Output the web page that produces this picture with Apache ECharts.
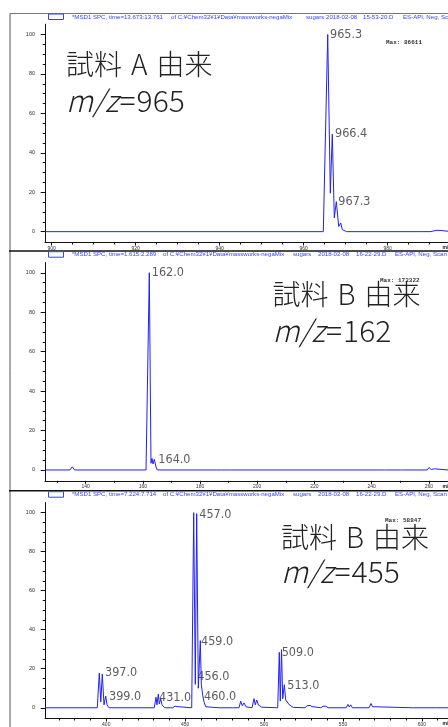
<!DOCTYPE html>
<html><head><meta charset="utf-8">
<script src="https://cdn.jsdelivr.net/npm/echarts@6/dist/echarts.min.js"></script>
<style>html,body{margin:0;padding:0;background:#fff}#c{width:448px;height:727px}</style>
</head><body><div id="c"></div>
<script>
// ---------- data ----------
// Panel 1 (sample A, m/z 965)
const p1Profile = [[898.4,0],[964.66,0],[964.9,1],[965.71,100],[966.33,19.5],[966.8,49.4],[967.28,7],[967.76,15.2],[968.33,2.6],[968.81,4.4],[969.19,1],[969.59,1.5],[970.23,0],[990.07,0],[991.73,0.7],[992.69,0.6],[993.88,0.3],[994.4,0.2]];
const p1Labels = [[965.78,100.1,'965.3'],[966.97,49.4,'966.4'],[967.76,15.1,'967.3']];
const p1XTicks = [900,920,940,960,980];
const p1XMinor = [905,910,915,925,930,935,945,950,955,965,970,975,985,990];
const p1Range = [898.4, 994.35];

// Panel 2 (sample B, m/z 162)
const p2Profile = [[125.8,0],[134.5,0],[135.35,1.6],[136.1,0],[161.12,0],[162.27,100],[162.86,3.4],[163.21,5.9],[163.56,3],[164.02,5.4],[164.61,1.5],[165.07,0],[187.51,0],[188.14,0.5],[188.74,0],[190.66,0],[191.29,0.6],[191.88,0],[243.7,0],[244.09,0.2],[244.5,0],[250.1,0],[250.52,0.2],[250.9,0],[259.4,0],[260.07,1.2],[260.87,0.2],[261.92,0.6],[262.5,0],[266.7,0]];
const p2Labels = [[162.43,100,'162.0'],[164.72,5.1,'164.0']];
const p2XTicks = [140,160,180,200,220,240,260];
const p2XMinor = [130,150,170,190,210,230,250];
const p2Range = [125.8, 266.7];

// Panel 3 (sample B, m/z 455)
const p3Profile = [[361.2,0],[394.33,0],[395.6,17.8],[396.55,3],[397.5,17.3],[398.58,1.5],[399.65,6],[400.48,1.5],[401.74,0],
 [430.44,0],[431.52,5.4],[432.15,1.5],[432.98,7],[433.61,2],[434.5,4.6],[435.32,1.5],[435.96,2.5],[437.03,0],
 [440.8,0],[441.47,0.7],[442.1,0],[443,0],[443.56,0.8],[444.2,0],[444.5,0],[445.01,0.6],[446,0],
 [454.14,0],[455.4,100],[456.42,12],[457.3,99.5],[458.32,10],[459.59,34.4],[460.22,12],[461.11,6.5],[461.93,3],[463.01,0.5],[463.84,0],
 [471.6,0],[472.06,0.3],[472.5,0],[480,0],[480.49,0.3],[481,0],
 [484.1,0],[485.18,3.4],[486.19,1],[487.27,2.5],[488.54,0.5],[489.8,0],
 [492.34,0],[493.61,4.7],[494.43,1.5],[495.32,4],[496.33,1.5],[497.22,1.5],[498.48,0.3],[499.3,0],
 [508.62,0],[509.63,28.4],[510.26,3.4],[511.03,29.8],[511.79,4.6],[512.8,11.8],[513.69,4],[514.7,3.4],[515.97,1.5],[517.05,0.8],[518.5,0.2],[519.58,0],
 [525.9,0],[527.18,1],[528.1,0.3],[529.08,1.2],[530.35,0.6],[531.6,0],
 [536,0],[537.32,0.8],[538.3,0.2],[539.22,0.8],[540.5,0],
 [552,0],[553.16,1.7],[554,0.4],[554.87,1.5],[556,0],
 [566.5,0],[567.73,2.2],[568.7,0.5],[569.63,1.5],[570.9,0.5],[572,0],
 [594,0],[594.5,0.3],[595,0],[608.8,0],[609.3,0.3],[609.8,0],[617.3,0]];
const p3Labels = [[397.94,17.8,'397.0'],[400.48,5.6,'399.0'],[432.15,5.1,'431.0'],[456.42,16.1,'456.0'],[457.68,98.9,'457.0'],[458.76,33.8,'459.0'],[460.66,5.6,'460.0'],[509.89,28.3,'509.0'],[513.43,11.5,'513.0']];
const p3XTicks = [400,450,500,550,600];
const p3XMinor = [370,380,390,410,420,430,440,460,470,480,490,510,520,530,540,560,570,580,590,610];
const p3Range = [361.2, 616.5];

const yTicks = [0,20,40,60,80,100];
const yMinor = [5,10,15,25,30,35,45,50,55,65,70,75,85,90,95];
const yRange = [-5.5, 105.2];

const headers = [
  ['*MSD1 SPC, time=13.673:13.761','of C:¥Chem32¥1¥Data¥massworks-negaMix','sugars','2018-02-08','15-53-20.D','ES-API, Neg, Scan'],
  ['*MSD1 SPC, time=1.615:2.289','of C:¥Chem32¥1¥Data¥massworks-negaMix','sugars','2018-02-08','16-22-29.D','ES-API, Neg, Scan'],
  ['*MSD1 SPC, time=7.224:7.714','of C:¥Chem32¥1¥Data¥massworks-negaMix','sugars','2018-02-08','16-22-29.D','ES-API, Neg, Scan']
];
const maxTexts = ['Max: 86611','Max: 173322','Max: 58847'];
const titleParts = [['試料','A','由来'],['試料','B','由来'],['試料','B','由来']];
const mzTexts = ['965','162','455'];

// ---------- layout ----------
const gridTops = [24.2, 262.5, 502.5];
const GH = 218.3;
const LINE = '#2020ff';
const AX = '#111';
const NUMFONT = '"Liberation Sans Narrow","DejaVu Sans Condensed","Liberation Sans",Arial,sans-serif';
const JP = '"Noto Sans CJK JP","Noto Sans CJK SC",sans-serif';

const profiles = [p1Profile,p2Profile,p3Profile];
const labelSets = [p1Labels,p2Labels,p3Labels];
const xt = [p1XTicks,p2XTicks,p3XTicks];
const xm = [p1XMinor,p2XMinor,p3XMinor];
const xr = [p1Range,p2Range,p3Range];

const grid=[], xAxis=[], yAxis=[], series=[];
for (let i=0;i<3;i++){
  grid.push({left:45, top:gridTops[i], width:403, height:GH, containLabel:false});
  const common = {gridIndex:i, type:'value', min:xr[i][0], max:xr[i][1], position:'bottom', splitLine:{show:false}};
  xAxis.push(Object.assign({}, common, {
    axisLine:{show:true,onZero:false,lineStyle:{color:AX,width:1}},
    axisTick:{show:true,customValues:xt[i],length:3,lineStyle:{color:AX,width:1}},
    axisLabel:{show:true,customValues:xt[i],fontSize:5,color:'#333',margin:3.5,fontFamily:'"Liberation Sans",Arial,sans-serif'}
  }));
  xAxis.push(Object.assign({}, common, {
    axisLine:{show:false,onZero:false},
    axisTick:{show:true,customValues:xm[i],length:2,lineStyle:{color:AX,width:1}},
    axisLabel:{show:false}
  }));
  const yc = {gridIndex:i, type:'value', min:yRange[0], max:yRange[1], position:'left', splitLine:{show:false}};
  yAxis.push(Object.assign({}, yc, {
    axisLine:{show:true,onZero:false,lineStyle:{color:AX,width:1}},
    axisTick:{show:true,customValues:yTicks,length:4.3,lineStyle:{color:AX,width:1}},
    axisLabel:{show:true,customValues:yTicks,fontSize:5.5,color:'#333',margin:10,fontFamily:'"Liberation Sans",Arial,sans-serif'}
  }));
  yAxis.push(Object.assign({}, yc, {
    axisLine:{show:false,onZero:false},
    axisTick:{show:true,customValues:yMinor,length:2.3,lineStyle:{color:AX,width:1}},
    axisLabel:{show:false}
  }));
  series.push({type:'line', xAxisIndex:2*i, yAxisIndex:2*i, data:profiles[i], symbol:'none', showSymbol:false,
    lineStyle:{color:LINE,width:1}, clip:true, silent:true});
  series.push({type:'scatter', xAxisIndex:2*i, yAxisIndex:2*i, data:labelSets[i], symbolSize:0, silent:true,
    label:{show:true, position:'right', distance:2, formatter:p=>p.value[2], fontSize:12.5, fontFamily:NUMFONT, color:'#333'}});
}

// ---------- graphics: frames, headers, annotations ----------
const headerX = [[72,171,306,326,363,403],[72,163,293,318,356,395],[72,163,293,318,356,395]];
const headerY = [17, 254.5, 494.5];
const rectY = [14, 251.7, 491.7];
const maxPos = [[386,42],[380,280],[385,520]];
const titlePos = [[66,64,101],[272.5,294,331],[281,537.5,572]];
const g = [];
g.push({type:'line', shape:{x1:10,y1:13.5,x2:10,y2:727}, style:{stroke:'#555',lineWidth:1}, z:10});
g.push({type:'line', shape:{x1:10,y1:13.5,x2:448,y2:13.5}, style:{stroke:'#777',lineWidth:1}, z:10});
g.push({type:'line', shape:{x1:9,y1:251,x2:448,y2:251}, style:{stroke:'#111',lineWidth:1.5}, z:10});
g.push({type:'line', shape:{x1:9,y1:490.7,x2:448,y2:490.7}, style:{stroke:'#111',lineWidth:1.5}, z:10});
const cj = 'normal 300 28px ' + JP;
const mj = '300 30px ' + JP;
for (let i=0;i<3;i++){
  g.push({type:'rect', shape:{x:48.5,y:rectY[i],width:15,height:5.5}, style:{fill:'#fff',stroke:'#3344ff',lineWidth:1}, z:11});
  headers[i].forEach((t,k)=>{
    g.push({type:'text', x:headerX[i][k], y:headerY[i], style:{text:t, fill:'#3344ff', font:'6.1px "Liberation Sans",Arial,sans-serif', textVerticalAlign:'middle'}, z:11});
  });
  g.push({type:'text', x:maxPos[i][0], y:maxPos[i][1], style:{text:maxTexts[i], fill:'#333', font:'bold 6px "Liberation Mono",monospace', textVerticalAlign:'middle'}, z:11});
  const tp = titleParts[i];
  g.push({type:'text', x:titlePos[i][0], y:titlePos[i][1], style:{
    text:'{c|'+tp[0]+'}{s| }{c|'+tp[1]+'}{s| }{c|'+tp[2]+'}', textVerticalAlign:'middle', fill:'#222',
    rich:{ c:{font:cj, fill:'#222'}, s:{font:cj, width:9} }
  }, z:11});
  g.push({type:'text', x:titlePos[i][0], y:titlePos[i][2], style:{
    text:'{i|m/z}{e|=}{n|' + mzTexts[i] + '}', textVerticalAlign:'middle', fill:'#222',
    rich:{ i:{font:'italic ' + mj, fill:'#222'}, e:{font:mj, fill:'#222', padding:[0,1,0,1]}, n:{font:mj, fill:'#222'} }
  }, z:11});
}
['247.5','486.5','724'].forEach(y=>{
  g.push({type:'text', x:442.5, y:+y, style:{text:'m/z', fill:'#111', font:'bold 5px "Liberation Sans",Arial', textVerticalAlign:'middle'}, z:11});
});

const chart = echarts.init(document.getElementById('c'), null, {renderer:'canvas'});
chart.setOption({animation:false, backgroundColor:'#fff', grid, xAxis, yAxis, series, graphic:g});
</script></body></html>
